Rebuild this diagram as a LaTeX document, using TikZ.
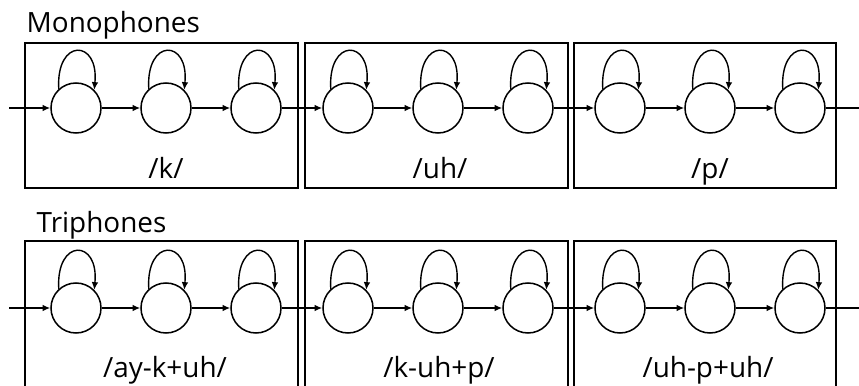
\documentclass[tikz,border=0pt]{standalone}
\usepackage{fontspec}
\setmainfont{Open Sans}
\usetikzlibrary{arrows.meta}
\begin{document}
\begin{tikzpicture}[x=0.03cm,y=-0.03cm,
  state/.style={circle,draw,line width=1.3pt,minimum size=1.5cm,inner sep=0pt},
  phonebox/.style={draw,line width=1.8pt},
  txt/.style={inner sep=0pt,font=\fontsize{23.8}{28}\selectfont},
  tr/.style={line width=1.2pt,-{Latex[length=2.3mm,width=2mm]}},
  plain/.style={line width=1.2pt},
  loopy/.style={line width=1.2pt,-{Latex[length=2.3mm,width=2mm]}}]
\useasboundingbox (0,0) rectangle (859,385);
% titles
\node[txt,anchor=base west] (tmono) at (26.5,32) {Monophones};
\node[txt,anchor=base west] (ttri) at (36.5,232) {Triphones};
% boxes top
\draw[phonebox] (25,43) rectangle (298,188);
\draw[phonebox] (305,43) rectangle (568,188);
\draw[phonebox] (574,43) rectangle (836,188);
% boxes bottom
\draw[phonebox] (25,241) rectangle (298,400);
\draw[phonebox] (305,241) rectangle (568,400);
\draw[phonebox] (574,241) rectangle (836,400);
% states
\foreach \r/\y in {a/108,b/308}{
  \foreach \i/\x in {1/76,2/166,3/256,4/348,5/438,6/528,7/620,8/710,9/800}{
    \node[state] (\r\i) at (\x,\y) {};
    \draw[loopy] (\r\i.132) .. controls +(-3,-51) and +(5,-51) .. (\r\i.45);
  }
  \coordinate (\r in) at (9,\y);
  \coordinate (\r out) at (859,\y);
  \draw[tr] (\r in) -- (\r1);
  \foreach \i/\j in {1/2,2/3,3/4,4/5,5/6,6/7,7/8,8/9}{
    \draw[tr] (\r\i) -- (\r\j);
  }
  \draw[plain] (\r9) -- (\r out);
}
% labels
\node[txt,anchor=base] (lk) at (166,178) {/k/};
\node[txt,anchor=base] (luh) at (440,178) {/uh/};
\node[txt,anchor=base] (lp) at (710,178) {/p/};
\node[txt,anchor=base] (l1) at (165,377) {/ay-k+uh/};
\node[txt,anchor=base] (l2) at (439,377) {/k-uh+p/};
\node[txt,anchor=base] (l3) at (708,377) {/uh-p+uh/};
\end{tikzpicture}
\end{document}
